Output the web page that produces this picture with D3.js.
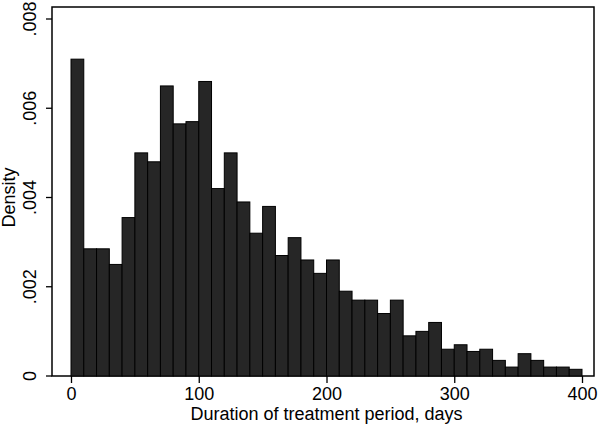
<!DOCTYPE html>
<html><head><meta charset="utf-8">
<script src="https://cdn.jsdelivr.net/npm/d3@7"></script>
<style>body{margin:0;background:#fff}</style></head>
<body><div id="chart"></div>
<script>
const binStarts = d3.range(0, 400, 10);
const densities = [0.0071, 0.00285, 0.00285, 0.0025, 0.00355, 0.0050, 0.0048, 0.0065, 0.00565, 0.0057,
  0.0066, 0.0042, 0.0050, 0.0039, 0.0032, 0.0038, 0.0027, 0.0031, 0.0026, 0.0023,
  0.0026, 0.0019, 0.0017, 0.0017, 0.0014, 0.0017, 0.0009, 0.0010, 0.0012, 0.0006,
  0.0007, 0.00055, 0.0006, 0.00035, 0.0002, 0.0005, 0.00035, 0.0002, 0.0002, 0.00015];
const xTicks = [0, 100, 200, 300, 400];
const yTicks = [0, 0.002, 0.004, 0.006, 0.008];
const yTickLabels = ['0', '.002', '.004', '.006', '.008'];

const width = 600, height = 429;
const svg = d3.select('#chart').append('svg').attr('width', width).attr('height', height);
const x = d3.scaleLinear().domain([0, 400]).range([71, 582]);
const y = d3.scaleLinear().domain([0, 0.008]).range([376, 19]);

// frame
svg.append('rect').attr('x', 52).attr('y', 7).attr('width', 542).attr('height', 369)
  .attr('fill', 'none').attr('stroke', '#000').attr('stroke-width', 1.5);

svg.selectAll('rect.bar').data(binStarts).enter().append('rect')
  .attr('class', 'bar')
  .attr('x', d => x(d))
  .attr('width', x(10) - x(0))
  .attr('y', (d, i) => y(densities[i]))
  .attr('height', (d, i) => y(0) - y(densities[i]))
  .attr('fill', '#262626').attr('stroke', '#000').attr('stroke-width', 1);

const font = 'Liberation Sans, Arial, sans-serif';
const xAxis = svg.append('g').attr('transform', 'translate(0,376)')
  .call(d3.axisBottom(x).tickValues(xTicks).tickSize(7).tickSizeOuter(0));
xAxis.select('.domain').remove();
xAxis.selectAll('line').attr('stroke', '#000').attr('stroke-width', 1.3);
xAxis.selectAll('text').attr('font-family', font).attr('font-size', 18).attr('fill', '#000').attr('y', 10).attr('dy', '0.8em');

const yAxis = svg.append('g').attr('transform', 'translate(52,0)')
  .call(d3.axisLeft(y).tickValues(yTicks).tickFormat((d, i) => yTickLabels[i]).tickSize(6).tickSizeOuter(0));
yAxis.select('.domain').remove();
yAxis.selectAll('line').attr('stroke', '#000').attr('stroke-width', 1.3);
yAxis.selectAll('text').attr('font-family', font).attr('font-size', 18).attr('fill', '#000')
  .attr('x', null).attr('dy', null)
  .attr('transform', d => `translate(-16,${y(d)}) rotate(-90)`)
  .attr('y', 0).attr('text-anchor', 'middle');
yAxis.selectAll('.tick').attr('transform', null);
yAxis.selectAll('.tick line').attr('y1', d => y(d)).attr('y2', d => y(d));

svg.append('text').attr('x', x(200)).attr('y', 420).attr('text-anchor', 'middle')
  .attr('font-family', font).attr('font-size', 18).text('Duration of treatment period, days');
svg.append('text').attr('transform', `translate(15,${y(0.004)}) rotate(-90)`).attr('text-anchor', 'middle')
  .attr('font-family', font).attr('font-size', 18).text('Density');
</script></body></html>
